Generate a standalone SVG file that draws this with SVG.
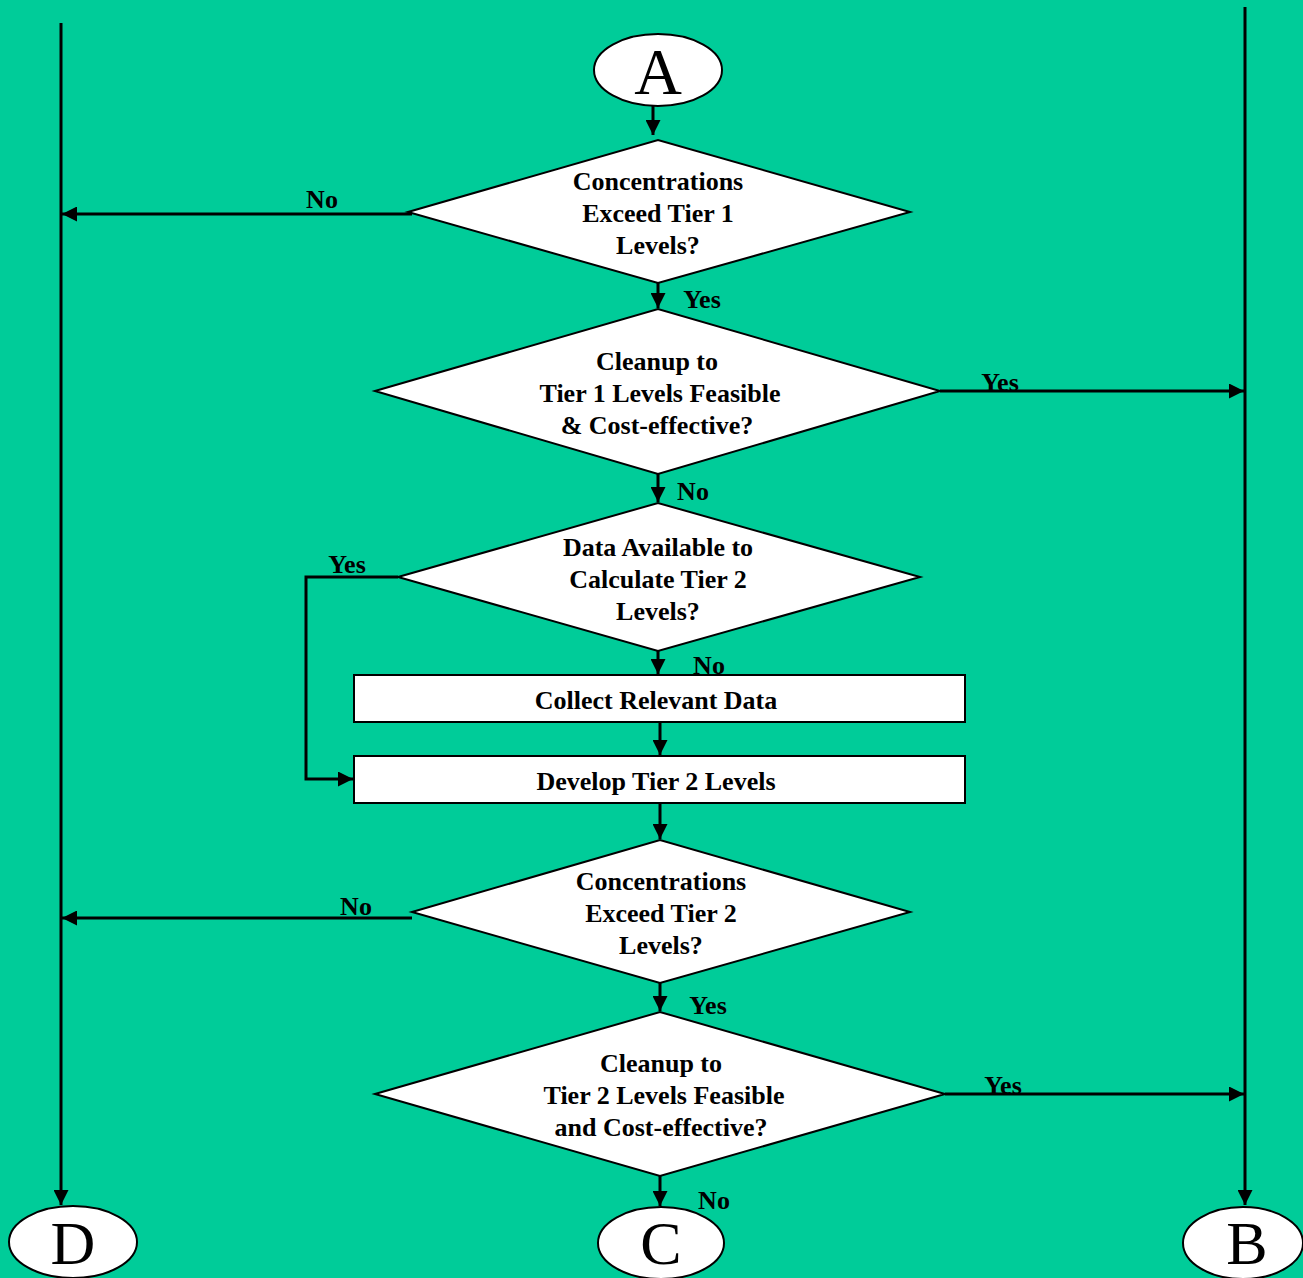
<svg xmlns="http://www.w3.org/2000/svg" width="1303" height="1278" viewBox="0 0 1303 1278">
<style>
.bg{fill:#00CC99}
.shape{fill:#fff;stroke:#000;stroke-width:2}
.conn{fill:none;stroke:#000;stroke-width:3}
.t{font-family:"Liberation Serif","Times New Roman",serif;font-weight:bold;font-size:26px;fill:#000;text-anchor:middle}
.lbl{font-family:"Liberation Serif","Times New Roman",serif;font-weight:bold;font-size:26px;fill:#000;text-anchor:middle}
.big{font-family:"Liberation Serif","Times New Roman",serif;font-size:66px;fill:#000;text-anchor:middle}
.bot{font-family:"Liberation Serif","Times New Roman",serif;font-size:62px;fill:#000;text-anchor:middle}
</style>
<defs>
<marker id="ah" viewBox="0 0 10 10" refX="10" refY="5" markerWidth="5" markerHeight="5" markerUnits="strokeWidth" orient="auto">
<path d="M0,0 L10,5 L0,10 z" fill="#000"/>
</marker>
</defs>
<rect class="bg" x="0" y="0" width="1303" height="1278"/>
<g id="connectors">
<line class="conn" x1="61" y1="23" x2="61" y2="1205" marker-end="url(#ah)"/>
<line class="conn" x1="1245" y1="7" x2="1245" y2="1205" marker-end="url(#ah)"/>
<line class="conn" x1="653" y1="106" x2="653" y2="135" stroke-width="2" marker-end="url(#ah)"/>
<line class="conn" x1="412" y1="214" x2="62" y2="214" marker-end="url(#ah)"/>
<line class="conn" x1="658" y1="283" x2="658" y2="308" marker-end="url(#ah)"/>
<line class="conn" x1="940" y1="391" x2="1244" y2="391" marker-end="url(#ah)"/>
<line class="conn" x1="658" y1="474" x2="658" y2="502" marker-end="url(#ah)"/>
<polyline class="conn" points="398,577 306,577 306,779 353,779" marker-end="url(#ah)"/>
<line class="conn" x1="658" y1="651" x2="658" y2="674" stroke-width="2" marker-end="url(#ah)"/>
<line class="conn" x1="660" y1="722" x2="660" y2="755" marker-end="url(#ah)"/>
<line class="conn" x1="660" y1="803" x2="660" y2="839" marker-end="url(#ah)"/>
<line class="conn" x1="412" y1="918" x2="62" y2="918" marker-end="url(#ah)"/>
<line class="conn" x1="660" y1="983" x2="660" y2="1011" marker-end="url(#ah)"/>
<line class="conn" x1="945" y1="1094" x2="1244" y2="1094" marker-end="url(#ah)"/>
<line class="conn" x1="660" y1="1176" x2="660" y2="1206" marker-end="url(#ah)"/>
<text class="lbl" x="322" y="208">No</text>
<text class="lbl" x="702" y="308">Yes</text>
<text class="lbl" x="1000" y="391">Yes</text>
<text class="lbl" x="693" y="500">No</text>
<text class="lbl" x="347" y="573">Yes</text>
<text class="lbl" x="709" y="674">No</text>
<text class="lbl" x="356" y="915">No</text>
<text class="lbl" x="708" y="1014">Yes</text>
<text class="lbl" x="1003" y="1094">Yes</text>
<text class="lbl" x="714" y="1209">No</text>
</g>
<g id="A">
<ellipse class="shape" cx="658" cy="70" rx="64" ry="36"/>
<text class="big" x="658" y="94">A</text>
</g>
<g id="d1">
<polygon class="shape" points="408,212 658,140 910,212 658,283"/>
<text class="t" x="658" y="190">Concentrations</text>
<text class="t" x="658" y="222">Exceed Tier 1</text>
<text class="t" x="658" y="254">Levels?</text>
</g>
<g id="d2">
<polygon class="shape" points="375,391 658,309 940,391 658,474"/>
<text class="t" x="657" y="370">Cleanup to</text>
<text class="t" x="660" y="402">Tier 1 Levels Feasible</text>
<text class="t" x="657" y="434">&amp; Cost-effective?</text>
</g>
<g id="d3">
<polygon class="shape" points="398,577 658,503 920,577 658,651"/>
<text class="t" x="658" y="556">Data Available to</text>
<text class="t" x="658" y="588">Calculate Tier 2</text>
<text class="t" x="658" y="620">Levels?</text>
</g>
<g id="b1">
<rect class="shape" x="354" y="675" width="611" height="47"/>
<text class="t" x="656" y="709">Collect Relevant Data</text>
</g>
<g id="b2">
<rect class="shape" x="354" y="756" width="611" height="47"/>
<text class="t" x="656" y="790">Develop Tier 2 Levels</text>
</g>
<g id="d4">
<polygon class="shape" points="412,912 660,840 910,912 660,983"/>
<text class="t" x="661" y="890">Concentrations</text>
<text class="t" x="661" y="922">Exceed Tier 2</text>
<text class="t" x="661" y="954">Levels?</text>
</g>
<g id="d5">
<polygon class="shape" points="375,1094 660,1012 945,1094 660,1176"/>
<text class="t" x="661" y="1072">Cleanup to</text>
<text class="t" x="664" y="1104">Tier 2 Levels Feasible</text>
<text class="t" x="661" y="1136">and Cost-effective?</text>
</g>
<g id="D">
<ellipse class="shape" cx="73" cy="1242" rx="64" ry="36"/>
<text class="bot" x="73" y="1264">D</text>
</g>
<g id="C">
<ellipse class="shape" cx="661" cy="1243" rx="63" ry="36"/>
<text class="bot" x="661" y="1264">C</text>
</g>
<g id="B">
<ellipse class="shape" cx="1243" cy="1243" rx="60" ry="36"/>
<text class="bot" x="1247" y="1264">B</text>
</g>
</svg>
